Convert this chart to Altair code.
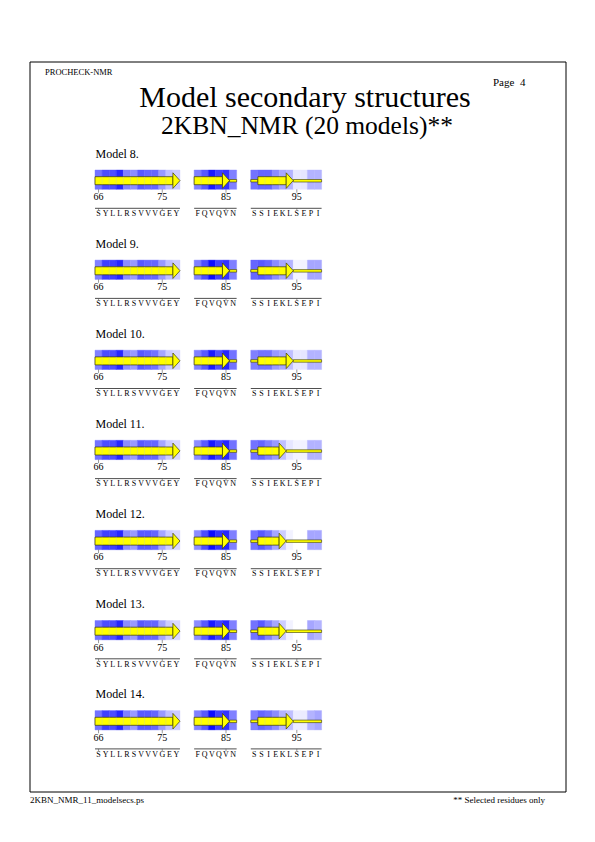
import altair as alt
import pandas as pd

# ---------------- data ----------------
models = [8, 9, 10, 11, 12, 13, 14]
seg_first = [66, 81, 89]
seg_last = [77, 86, 98]
sequence = ["SYLLRSVVVGEY", "FQVQVN", "SSIEKLSEPI"]
tick_residues = [66, 75, 85, 95]

# strands (first, last residue) per model
strand1 = (66, 77)
strand2 = (81, 85)
strand3_first = [90, 90, 90, 90, 90, 90, 90]
strand3_last = [94, 94, 94, 93, 93, 93, 94]

# blue shading per residue (0 = white, 1 = full blue), 28 residues per model
shade_m8 = [0.55, 0.7, 0.7, 0.85, 0.5, 0.45, 0.65, 0.6, 0.6, 0.4, 0.25, 0.2,
            0.5, 0.65, 0.9, 0.75, 0.8, 0.5,
            0.55, 0.6, 0.6, 0.45, 0.35, 0.3, 0.1, 0.1, 0.3, 0.3]
shade_m9 = [0.5, 0.75, 0.75, 0.85, 0.45, 0.4, 0.65, 0.6, 0.6, 0.4, 0.25, 0.2,
            0.5, 0.7, 0.95, 0.75, 0.8, 0.5,
            0.6, 0.65, 0.6, 0.45, 0.35, 0.3, 0.05, 0.05, 0.35, 0.35]
shade_m10 = [0.5, 0.7, 0.7, 0.85, 0.45, 0.4, 0.65, 0.6, 0.55, 0.35, 0.2, 0.15,
             0.5, 0.65, 0.9, 0.7, 0.85, 0.55,
             0.5, 0.55, 0.55, 0.4, 0.35, 0.25, 0.1, 0.1, 0.3, 0.3]
shade_m11 = [0.55, 0.7, 0.7, 0.85, 0.45, 0.4, 0.65, 0.6, 0.6, 0.35, 0.2, 0.15,
             0.45, 0.65, 0.9, 0.75, 0.85, 0.55,
             0.55, 0.6, 0.5, 0.4, 0.25, 0.1, 0.05, 0.05, 0.3, 0.3]
shade_m12 = [0.6, 0.75, 0.75, 0.85, 0.45, 0.4, 0.65, 0.65, 0.6, 0.35, 0.2, 0.15,
             0.45, 0.7, 0.95, 0.8, 0.85, 0.5,
             0.55, 0.65, 0.55, 0.35, 0.2, 0.05, 0.0, 0.0, 0.35, 0.35]
shade_m13 = [0.55, 0.7, 0.7, 0.85, 0.45, 0.4, 0.65, 0.6, 0.6, 0.35, 0.2, 0.15,
             0.45, 0.65, 0.9, 0.75, 0.85, 0.5,
             0.55, 0.65, 0.5, 0.35, 0.2, 0.05, 0.0, 0.0, 0.35, 0.3]
shade_m14 = [0.55, 0.75, 0.7, 0.85, 0.5, 0.4, 0.65, 0.65, 0.6, 0.4, 0.25, 0.2,
             0.5, 0.65, 0.95, 0.75, 0.8, 0.5,
             0.5, 0.6, 0.55, 0.45, 0.3, 0.25, 0.08, 0.08, 0.3, 0.35]
shades = [shade_m8, shade_m9, shade_m10, shade_m11, shade_m12, shade_m13, shade_m14]

# ---------------- derived tables ----------------
GAP = 2
slot_start = []
s = 0
for k in range(3):
    slot_start.append(s)
    s += seg_last[k] - seg_first[k] + 1 + GAP
N_SLOTS = s - GAP


def slot_of(res):
    for k in range(3):
        if seg_first[k] <= res <= seg_last[k]:
            return slot_start[k] + res - seg_first[k]
    return None


residues, letters = [], []
for k in range(3):
    for i, r in enumerate(range(seg_first[k], seg_last[k] + 1)):
        residues.append(r)
        letters.append(sequence[k][i])

cells, strands, divs, coils, seqlines, ticks, labels = [], [], [], [], [], [], []
for mi, m in enumerate(models):
    labels.append({"row": mi, "x": 0, "label": f"Model {m}."})
    sl = [strand1, strand2, (strand3_first[mi], strand3_last[mi])]
    in_strand = set()
    for a, b in sl:
        in_strand.update(range(a, b + 1))
        strands.append({"row": mi, "x": slot_of(a), "x2": slot_of(b),
                        "hx": slot_of(b) + 0.5})
        for r in range(a + 1, b):
            divs.append({"row": mi, "x": slot_of(r)})
    for i, r in enumerate(residues):
        cells.append({"row": mi, "x": slot_of(r), "x2": slot_of(r) + 1,
                      "xc": slot_of(r) + 0.5, "shade": shades[mi][i],
                      "letter": letters[i]})
    for k in range(3):
        run = []
        for r in list(range(seg_first[k], seg_last[k] + 1)) + [None]:
            if r is not None and r not in in_strand:
                run.append(r)
            elif run:
                coils.append({"row": mi, "x": slot_of(run[0]), "x2": slot_of(run[-1]) + 1})
                run = []
        seqlines.append({"row": mi, "x": slot_of(seg_first[k]), "x2": slot_of(seg_last[k]) + 1})
    for t in tick_residues:
        ticks.append({"row": mi, "xc": slot_of(t) + 0.5, "num": str(t)})

cells = pd.DataFrame(cells)
strands = pd.DataFrame(strands)
divs = pd.DataFrame(divs)
coils = pd.DataFrame(coils)
seqlines = pd.DataFrame(seqlines)
ticks = pd.DataFrame(ticks)
labels = pd.DataFrame(labels)

# ---------------- scales ----------------
XS = alt.Scale(domain=[0, N_SLOTS], range=[95, 321.6], nice=False, zero=False)
YS = alt.Scale(domain=[0, len(models) - 1], range=[170, 170 + 90.1 * (len(models) - 1)],
               nice=False, zero=False)
FONT = "Liberation Serif"
YEL = "#ffff00"
OUT = "#3a3a00"
BLUES = alt.Scale(domain=[0, 1], range=["#ffffff", "#0000ff"], interpolate="rgb")


def X(f):
    return alt.X(f, type="quantitative", scale=XS, axis=None)


def Y():
    return alt.Y("row:Q", scale=YS, axis=None)


cell_layer = alt.Chart(cells).mark_rect(y2Offset=19.3, strokeWidth=0.4).encode(
    x=X("x"), x2="x2", y=Y(), y2="row",
    fill=alt.Fill("shade:Q", scale=BLUES, legend=None),
    stroke=alt.Stroke("shade:Q", scale=BLUES, legend=None),
)

coil_layer = alt.Chart(coils).mark_rect(
    yOffset=9.5, y2Offset=12.0, fill=YEL, stroke=OUT, strokeWidth=0.6
).encode(x=X("x"), x2="x2", y=Y(), y2="row")

body_layer = alt.Chart(strands).mark_rect(
    yOffset=6.7, y2Offset=14.7, fill=YEL, stroke=OUT, strokeWidth=0.7
).encode(x=X("x"), x2="x2", y=Y(), y2="row")

div_layer = alt.Chart(divs).mark_rule(
    yOffset=7.1, y2Offset=14.3, color="#d6d67a", strokeWidth=0.5
).encode(x=X("x"), y=Y(), y2="row")

HEAD = "M-0.4538,-1L0.4538,0L-0.4538,1Z"
head_layer = alt.Chart(strands).mark_point(
    shape=HEAD, size=243, filled=True, fill=YEL, stroke=OUT, strokeWidth=0.7,
    opacity=1, yOffset=10.6
).encode(x=X("hx"), y=Y())

tick_layer = alt.Chart(ticks).mark_rule(
    yOffset=19.3, y2Offset=22.7, color="#555555", strokeWidth=0.6
).encode(x=X("xc"), y=Y(), y2="row")

num_layer = alt.Chart(ticks).mark_text(
    yOffset=30, baseline="alphabetic", align="center", font=FONT, fontSize=10, color="black"
).encode(x=X("xc"), y=Y(), text="num:N")

seq_layer = alt.Chart(seqlines).mark_rule(
    yOffset=38.3, color="#222222", strokeWidth=0.8
).encode(x=X("x"), x2="x2", y=Y())

seqtick_layer = alt.Chart(ticks).mark_rule(
    yOffset=38.3, y2Offset=40.8, color="#555555", strokeWidth=0.6
).encode(x=X("xc"), y=Y(), y2="row")

letter_layer = alt.Chart(cells).mark_text(
    yOffset=46, baseline="alphabetic", align="center", font=FONT, fontSize=8, color="black"
).encode(x=X("xc"), y=Y(), text="letter:N")

label_layer = alt.Chart(labels).mark_text(
    yOffset=-12.5, dx=0.5, baseline="alphabetic", align="left", font=FONT, fontSize=12, color="black"
).encode(x=X("x"), y=Y(), text="label:N")

one = pd.DataFrame({"k": [0]})


def page_text(txt, x, y, size, align="left"):
    return alt.Chart(one).mark_text(
        baseline="alphabetic", align=align, font=FONT, fontSize=size, color="black"
    ).encode(x=alt.value(x), y=alt.value(y), text=alt.value(txt))


frame = alt.Chart(one).mark_rect(filled=False, stroke="black", strokeWidth=1).encode(
    x=alt.value(30), x2=alt.value(566), y=alt.value(62), y2=alt.value(792)
)

chart = alt.layer(
    frame,
    page_text("PROCHECK-NMR", 45, 75, 8.5),
    page_text("Page\u00a0\u00a04", 493, 86, 11),
    page_text("Model secondary structures", 305, 107, 30, "center"),
    page_text("2KBN_NMR (20 models)**", 307, 134, 25.5, "center"),
    page_text("2KBN_NMR_11_modelsecs.ps", 30, 803, 9),
    page_text("** Selected residues only", 545, 803, 9, "right"),
    cell_layer, coil_layer, body_layer, div_layer, head_layer,
    tick_layer, num_layer, seq_layer, seqtick_layer, letter_layer, label_layer,
).properties(
    width=595, height=842, padding=0, autosize=alt.AutoSizeParams(type="none"),
    background="white",
).configure_view(strokeWidth=0)

chart.save("out.html", embed_options={"renderer": "svg", "actions": False})
